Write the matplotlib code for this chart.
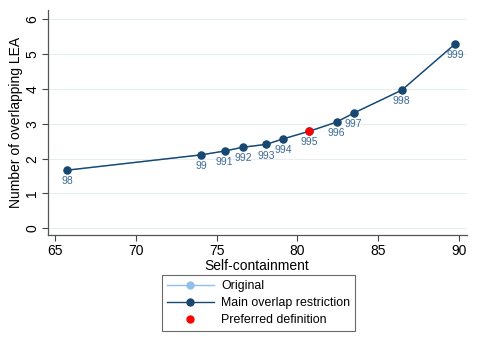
import matplotlib
matplotlib.use("Agg")
import matplotlib.pyplot as plt
from matplotlib.lines import Line2D

plt.rcParams['font.family'] = ['Liberation Sans', 'DejaVu Sans']

# data
self_containment = [65.75, 74.05, 75.5, 76.65, 78.06, 79.14, 80.75, 82.43, 83.49, 86.47, 89.78]
overlap_lea = [1.67, 2.11, 2.22, 2.33, 2.41, 2.57, 2.79, 3.05, 3.31, 3.97, 5.30]
point_labels = ['98', '99', '991', '992', '993', '994', '995', '996', '997', '998', '999']
preferred = '995'

navy = '#1a476f'
light = '#90c0e8'
lab_col = '#3e6a96'

fig = plt.figure(figsize=(4.79, 3.48), dpi=100)
ax = fig.add_axes([0.0996, 0.324, 0.8744, 0.647])

ax.grid(axis='y', color='#e6eef1', linewidth=0.8)
ax.set_axisbelow(True)

ax.plot(self_containment, overlap_lea, color=light, marker='o', ms=5, lw=1, zorder=2)
ax.plot(self_containment, overlap_lea, color=navy, marker='o', ms=5, lw=1, zorder=3)

for x, y, t in zip(self_containment, overlap_lea, point_labels):
    if t == preferred:
        ax.plot([x], [y], 'o', color='#ff0000', ms=5, zorder=4)
    ax.annotate(t, (x, y), xytext=(0, -4.5), textcoords='offset points',
                ha='center', va='top', fontsize=7.5, color=lab_col, zorder=5)

ax.set_xlim(64.55, 90.48)
ax.set_ylim(-0.2, 6.27)
ax.set_xticks([65, 70, 75, 80, 85, 90])
ax.set_yticks([0, 1, 2, 3, 4, 5, 6])
for lbl in ax.get_yticklabels():
    lbl.set_rotation(90)
    lbl.set_va('center')
ax.tick_params(labelsize=10, length=4, pad=2, color='#444444', labelcolor='black')
ax.set_xlabel('Self-containment', fontsize=10, labelpad=1)
ax.set_ylabel('Number of overlapping LEA', fontsize=10, labelpad=2)

for s in ['top', 'right']:
    ax.spines[s].set_visible(False)
for s in ['left', 'bottom']:
    ax.spines[s].set_color('#555555')
    ax.spines[s].set_linewidth(0.9)

handles = [
    Line2D([], [], color=light, marker='o', ms=5, lw=1),
    Line2D([], [], color=navy, marker='o', ms=5, lw=1),
    Line2D([], [], color='#ff0000', marker='o', ms=5, lw=0),
]
leg = fig.legend(handles, ['Original', 'Main overlap restriction', 'Preferred definition'],
                 loc='upper left', bbox_to_anchor=(161.7 / 479, 1 - 275 / 348),
                 fontsize=8.9, frameon=True, fancybox=False, edgecolor='#444444',
                 handlelength=3.8, handletextpad=0.6, labelspacing=0.42,
                 borderpad=0.4, borderaxespad=0)
leg.get_frame().set_linewidth(0.8)

fig.savefig('out.png', dpi=100)
